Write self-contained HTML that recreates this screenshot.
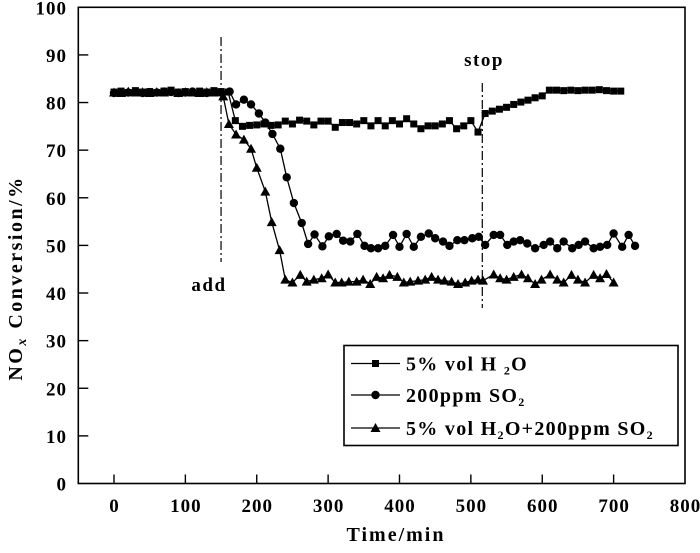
<!DOCTYPE html>
<html><head><meta charset="utf-8"><style>
html,body{margin:0;padding:0;background:#fff;}
svg text{font-family:"Liberation Serif",serif;font-weight:bold;fill:#000;}
</style></head><body>
<svg id="chart" width="700" height="548" viewBox="0 0 700 548" xmlns="http://www.w3.org/2000/svg">
<g id="axes"></g><g id="series"></g><g id="legend"></g>
</svg>
<script>
const xTicks=[0,100,200,300,400,500,600,700,800];
const yTicks=[0,10,20,30,40,50,60,70,80,90,100];
const h2oT=[0,10,20,30,40,50,60,70,80,90,100,110,120,130,140,150,160,170,180,190,200,210,220,230,240,250,260,270,280,290,300,310,320,330,340,350,360,370,380,390,400,410,420,430,440,450,460,470,480,490,500,510,520,530,540,550,560,570,580,590,600,610,620,630,640,650,660,670,680,690,700,710];
const h2oV=[82.2,82.4,82.1,82.5,82.2,82.3,82.1,82.4,82.6,82.2,82.3,82.1,82.4,82.2,82.5,82.3,82.2,76.2,75.0,75.2,75.3,75.5,75.2,75.3,76.1,75.5,76.3,76.1,75.3,76.1,76.1,74.8,75.8,75.8,75.5,76.2,75.1,76.2,75.1,76.2,75.5,76.6,75.5,74.5,75.1,75.1,75.5,76.2,74.5,75.1,76.2,73.8,77.7,78.2,78.6,79.0,79.6,80.1,80.5,81.0,81.4,82.6,82.6,82.5,82.6,82.5,82.6,82.6,82.7,82.5,82.4,82.4];
const so2T=[0,10,20,30,40,50,60,70,80,90,100,110,120,130,140,150,162,171,182,192,203,212,222,233,242,252,263,272,281,292,301,312,321,331,341,351,360,370,380,391,400,410,420,430,441,450,461,470,481,491,502,511,520,532,541,551,560,569,579,590,602,611,621,630,642,651,660,672,681,691,700,712,721,730];
const so2V=[82.0,82.2,82.1,82.3,82.0,82.2,82.1,82.3,82.2,82.0,82.1,82.3,82.2,82.0,82.2,82.1,82.3,79.6,80.6,79.6,77.7,75.8,73.4,70.3,64.3,58.9,54.7,50.3,52.3,49.8,51.9,52.4,51.0,50.8,52.4,49.9,49.4,49.4,49.9,52.2,49.7,52.4,49.7,51.8,52.5,51.5,50.8,49.9,51.1,51.1,51.5,51.8,50.1,52.2,52.2,50.1,50.8,51.1,50.4,49.4,50.1,50.8,49.4,50.8,49.4,50.1,50.8,49.4,49.7,50.1,52.5,49.7,52.2,49.9];
const mixT=[0,10,20,30,40,50,60,70,80,90,100,110,120,130,140,153,161,171,182,192,200,212,221,232,240,250,261,270,280,291,300,310,319,329,340,349,359,368,377,386,397,406,415,426,436,445,454,463,473,482,492,501,510,517,532,541,550,560,571,580,590,599,611,621,630,641,650,660,672,681,690,700];
const mixV=[82.1,82.0,82.3,82.1,82.2,82.0,82.2,82.1,82.3,82.0,82.2,82.1,82.0,82.2,82.1,81.3,75.5,73.3,72.2,70.3,66.3,61.3,54.9,49.0,42.8,42.2,43.8,42.4,42.8,43.1,43.9,42.2,42.2,42.4,42.4,42.8,41.9,43.4,43.1,43.8,43.4,42.2,42.4,42.6,42.8,43.4,42.8,42.6,42.4,41.9,42.2,42.6,42.8,42.6,43.9,43.1,42.8,43.4,43.9,43.1,41.9,42.8,43.9,42.8,42.2,43.8,42.8,42.2,43.8,43.1,44.0,42.2];

const X0=78.3,X1=685,Y0=483.5,Y1=7.3;
const xs=t=>X0+(t+50)/850*(X1-X0);
const ys=v=>Y0-v/100*(Y0-Y1);
const NS='http://www.w3.org/2000/svg';
function mk(tag,attrs,parent){const e=document.createElementNS(NS,tag);for(const k in attrs)e.setAttribute(k,attrs[k]);parent.appendChild(e);return e;}
const axes=document.getElementById('axes'),ser=document.getElementById('series'),leg=document.getElementById('legend');

const frame=mk('rect',{x:X0,y:Y1,width:X1-X0,height:Y0-Y1,fill:'none',stroke:'#000','stroke-width':1.6},axes);


xTicks.forEach(t=>{
  if(t<800){const l=mk('line',{x1:xs(t),x2:xs(t),y1:Y0,y2:Y0-9,stroke:'#000','stroke-width':1.4},axes);
  
  }
  const tx=mk('text',{x:xs(t)+0.5,y:512,'text-anchor':'middle','font-size':19,'letter-spacing':1},axes);tx.textContent=t;
  
  
});
yTicks.forEach(v=>{
  if(v>0&&v<100){const l=mk('line',{x1:X0,x2:X0+10,y1:ys(v),y2:ys(v),stroke:'#000','stroke-width':1.4},axes);
  
  }
  const tx=mk('text',{x:67,y:ys(v)+7,'text-anchor':'end','font-size':19,'letter-spacing':1},axes);tx.textContent=v;
  
  
});
const xt=mk('text',{x:396,y:541,'text-anchor':'middle','font-size':20,'letter-spacing':2},axes);xt.textContent='Time/min';


const yt=mk('text',{x:0,y:0,'text-anchor':'middle','font-size':20,'letter-spacing':2.5,transform:'translate(22,278) rotate(-90)'},axes);
yt.innerHTML='NO<tspan font-size="14" font-style="italic" dy="4">x</tspan><tspan dy="-4"> Conversion/%</tspan>';



const addL=mk('line',{x1:xs(150),x2:xs(150),y1:37,y2:262,stroke:'#000','stroke-width':1.2,'stroke-dasharray':'9,3,2,3'},axes);


const addT=mk('text',{x:209,y:291,'text-anchor':'middle','font-size':19,'letter-spacing':1.5},axes);addT.textContent='add';


const stL=mk('line',{x1:xs(516),x2:xs(516),y1:83,y2:308,stroke:'#000','stroke-width':1.2,'stroke-dasharray':'9,3,2,3'},axes);


const stT=mk('text',{x:484,y:66,'text-anchor':'middle','font-size':19,'letter-spacing':1.5},axes);stT.textContent='stop';



function marker(kind,x,y,g){
  if(kind==='sq')return mk('rect',{x:x-3.5,y:y-3.5,width:7,height:7,fill:'#000'},g);
  if(kind==='ci')return mk('circle',{cx:x,cy:y,r:4.2,fill:'#000'},g);
  return mk('polygon',{points:`${x},${y-5} ${x-5},${y+4} ${x+5},${y+4}`,fill:'#000'},g);
}
function series(T,V,kind,name){
  const g=mk('g',{},ser);
  
  
  const pl=mk('polyline',{points:T.map((t,i)=>xs(t)+','+ys(V[i])).join(' '),fill:'none',stroke:'#000','stroke-width':1.3},g);
  
  
  T.forEach((t,i)=>{const m=marker(kind,xs(t),ys(V[i]),g);
    
    });
}
series(mixT,mixV,'tr','series-h2o-so2');
series(so2T,so2V,'ci','series-so2');
series(h2oT,h2oV,'sq','series-h2o');

const lb=mk('rect',{x:344,y:345.5,width:334,height:100,fill:'#fff',stroke:'#000','stroke-width':1.6},leg);


const labels=['5% vol H <tspan font-size="12" dy="4">2</tspan><tspan dy="-4">O</tspan>','200ppm SO<tspan font-size="12" dy="4">2</tspan>','5% vol H<tspan font-size="12" dy="4">2</tspan><tspan dy="-4">O+200ppm SO</tspan><tspan font-size="12" dy="4">2</tspan>'];
const kinds=['sq','ci','tr'];
[363.5,395,428].forEach((y,i)=>{
  const g=mk('g',{},leg);
  
  
  mk('line',{x1:351,x2:400,y1:y,y2:y,stroke:'#000','stroke-width':1.3},g);
  marker(kinds[i],375.5,y,g);
  const t=mk('text',{x:406,y:y+7,'font-size':20,'letter-spacing':1.3},g);t.innerHTML=labels[i];
});
</script>
</body></html>
